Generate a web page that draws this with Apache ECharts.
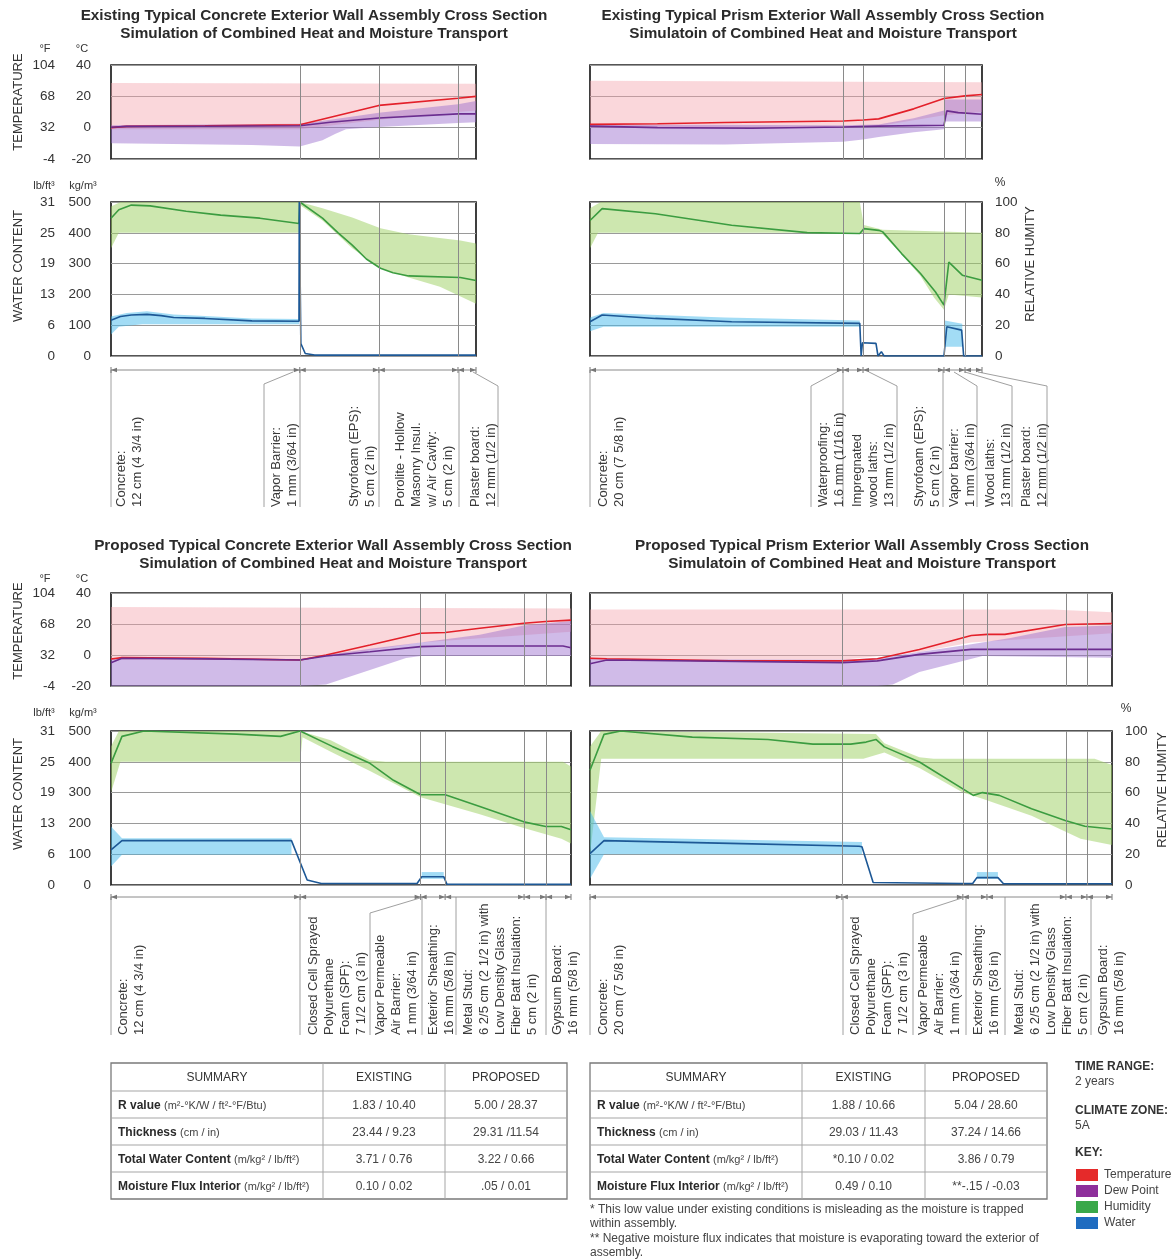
<!DOCTYPE html>
<html><head><meta charset="utf-8">
<script src="https://cdn.jsdelivr.net/npm/echarts@6/dist/echarts.min.js"></script>
<style>html,body{margin:0;padding:0;background:#fff}#c{width:1173px;height:1260px}</style>
</head><body><div id="c"></div>
<script>
// ---------- tick labels ----------
const cTicks = [-20, 0, 20, 40];
const fTickLabels = ['-4', '32', '68', '104'];
const kgTicks = [0, 100, 200, 300, 400, 500];
const lbTickLabels = ['0', '6', '13', '19', '25', '31'];

// ---------- titles ----------
const titleLine1 = ['Existing Typical Concrete Exterior Wall Assembly Cross Section',
  'Existing Typical Prism Exterior Wall Assembly Cross Section',
  'Proposed Typical Concrete Exterior Wall Assembly Cross Section',
  'Proposed Typical Prism Exterior Wall Assembly Cross Section'];
const titleLine2 = ['Simulation of Combined Heat and Moisture Transport',
  'Simulatoin of Combined Heat and Moisture Transport',
  'Simulation of Combined Heat and Moisture Transport',
  'Simulatoin of Combined Heat and Moisture Transport'];

// ---------- A: existing concrete (position in cm) ----------
const A_total = 23.3;
const A_bounds = [12.05, 17.1, 22.15];
const A_temp = [[0,0],[1,0.8],[6,1.2],[12.05,1.8],[17.1,14.2],[22.15,18.8],[23.3,20]];
const A_dew = [[0,0.3],[1,0.8],[6,0.9],[12.05,1.2],[14,3.5],[17.1,6.2],[22.15,8.8],[23.3,8.8]];
const A_tempHi = [[0,28.5],[23.3,28]];
const A_tempLo = [[0,-1],[12.05,-1],[17.1,5],[22.15,10],[23.3,11]];
const A_dewHi = [[0,1.5],[12.05,2.5],[14,5],[17.1,9.5],[22.15,15],[23.3,17]];
const A_dewLo = [[0,-10],[4,-10.5],[9,-11],[12.05,-12],[13.5,-8],[14.3,-4],[15,-1],[17.1,0.5],[22.15,3],[23.3,3.5]];
const A_rh = [[0,89.5],[0.5,95],[1.3,98],[2.5,97.5],[4.8,94],[7,91.5],[9.5,89.5],[12,86],[12.05,100],[13.5,89.5],[14.5,80],[15.4,72],[16.3,63],[17.2,57],[18,54],[19,52],[22.3,51],[23.3,49]];
const A_rhHi = [[0,97],[0.6,100],[12.05,100],[13.5,96],[15.4,90],[17.2,83],[19,79],[22.3,75],[23.3,73]];
const A_rhLo = [[0,70],[0.5,80],[12,80],[12.05,98],[13.5,88],[15.4,70],[17.2,57],[19,51],[21,45],[23.3,34]];
const A_wc = [[0,116],[0.6,128],[1.3,133],[2.3,135],[3.2,131],[4,125],[6,122],[9,114],[12,113],[12.02,500],[12.08,500],[12.12,40],[12.4,8],[13,3],[23.3,3]];
const A_wcHi = [[0,128],[1,140],[2.3,145],[4,135],[6,130],[9,122],[12,120]];
const A_wcLo = [[0,70],[0.5,95],[2,103],[6,103],[12,103]];

// ---------- B: existing prism ----------
const B_total = 29.06;
const B_bounds = [18.75, 20.24, 26.24, 27.8];
const B_temp = [[0,2.1],[5,2.5],[10,3.3],[18.75,4.3],[20.24,4.9],[21.4,5.6],[24,12],[26.24,18.6],[27.8,20.3],[29.06,21.2]];
const B_dew = [[0,1],[5,0],[12,-0.4],[18.75,0.4],[21.4,1],[26.24,1.5],[26.45,10.7],[27.3,9.6],[29.06,8.6]];
const B_tempHi = [[0,30],[29.06,29]];
const B_tempLo = [[0,0],[18.75,0],[21.4,1],[26.24,8],[29.06,10]];
const B_dewHi = [[0,2],[18.75,1.5],[21.4,2],[24,6],[26.24,11],[26.3,18],[29.06,18]];
const B_dewLo = [[0,-10.5],[10,-10.7],[18.75,-9],[20.24,-7.5],[21.4,-6],[24,-3],[26.24,-1],[26.3,4],[29.06,4]];
const B_rh = [[0,88],[0.9,95.7],[4.85,92.4],[10.5,84.9],[16.1,80.1],[20,79.5],[20.3,82.7],[21.4,81.6],[21.7,80.6],[23.1,66.5],[24.5,53.6],[25.6,41.7],[26.24,33],[26.6,61],[27.6,52.5],[29.06,49.2]];
const B_rhHi = [[0,96],[0.8,100],[20,100],[20.3,85],[21.7,82],[29.06,80]];
const B_rhLo = [[0,70],[0.6,80],[20,80],[21.7,79],[23.1,66],[24.5,52],[25.5,38],[26.24,30],[26.6,40],[29.06,38]];
const B_wc = [[0,111],[0.9,133],[4.85,122],[10.5,111],[20,106],[20.1,0],[20.2,43],[21.2,41],[21.35,0],[21.6,14],[21.8,0],[26.24,0],[26.45,95],[27.55,84],[27.7,0],[29.06,0]];
const B_wcHi = [[0,125],[1,140],[10,125],[20,115]];
const B_wcLo = [[0,80],[1,95],[20,95]];
const B_wcHi2 = [[26.3,115],[27.6,105]];
const B_wcLo2 = [[26.3,30],[27.6,30]];

// ---------- C: proposed concrete ----------
const C_total = 29.31;
const C_bounds = [12.05, 19.73, 21.29, 26.32, 27.72];
const C_temp = [[0,-2.6],[0.7,-1.7],[6,-2.2],[12.05,-3.2],[13.7,0],[16.5,6.4],[19.73,14],[21.3,14.5],[23.5,17.3],[26.3,20.5],[27.7,21.6],[29.31,22.5]];
const C_dew = [[0,-5],[0.7,-2.1],[6,-2.5],[12.05,-3.2],[13.7,-0.6],[16.5,2.1],[19.73,5.4],[21.3,5.8],[28.8,5.8],[29.31,4.7]];
const C_tempHi = [[0,31],[29.31,30]];
const C_tempLo = [[0,-3],[12.05,-3],[16.5,3],[19.73,8],[29.31,15]];
const C_dewHi = [[0,-2],[12.05,-2.5],[13.7,0],[16.5,4],[19.73,8],[23.5,13],[26.3,19],[29.31,22]];
const C_dewLo = [[0,-20],[12.05,-20],[13.7,-19],[16.5,-9.6],[18.8,-2],[19.73,-0.6],[29.31,-0.6]];
const C_rh = [[0,79],[0.7,96.5],[2.1,100],[8,98],[10.8,96.5],[12.05,100],[14.1,90],[16.5,79],[18,68],[19.73,58.6],[21.3,58.6],[23.5,51],[26.3,41],[27.7,38],[28.7,38],[29.31,35.8]];
const C_rhHi = [[0,90],[0.5,100],[12.05,100],[14,94],[16.5,81],[17.5,80],[28.8,80],[29.31,77]];
const C_rhLo = [[0,60],[0.6,80],[12.05,80],[12.2,96],[14.1,86],[16.5,74],[19.73,57],[23.5,46],[26.3,37],[28.7,30],[29.31,27]];
const C_wc = [[0,114],[0.7,144],[11.5,144],[12.5,16],[13.4,5],[19.5,5],[19.8,27],[21.2,27],[21.4,3],[29.31,2]];
const C_wcHi = [[0,190],[0.7,152],[11.5,152]];
const C_wcLo = [[0,60],[0.7,98],[11.5,98]];
const C_wcHi2 = [[19.8,42],[21.2,42]];
const C_wcLo2 = [[19.8,20],[21.2,20]];

// ---------- D: proposed prism ----------
const D_total = 37.24;
const D_bounds = [17.97, 26.6, 28.32, 33.95, 35.45];
const D_temp = [[0,-2.1],[1.2,-2.4],[10,-3.8],[18,-3.8],[20.5,-2.4],[23.5,3.6],[27.2,12.6],[28.35,13.3],[29.6,13.3],[33.9,19.7],[37.24,20.3]];
const D_dew = [[0,-5.6],[1.2,-3.2],[18,-4.9],[20.5,-3.8],[23.5,0.4],[27.2,3.6],[37.24,3.6]];
const D_tempHi = [[0,29.4],[33,29.4],[37.24,27.6]];
const D_tempLo = [[0,-3],[18,-3],[23.5,2],[27.2,8],[37.24,14]];
const D_dewHi = [[0,-2.5],[18,-3],[20.5,-2],[23.5,2],[27.2,7],[30,11],[33.9,18],[37.24,19]];
const D_dewLo = [[0,-20],[20.5,-20],[21.6,-19],[23.5,-11],[26.6,-3.8],[28,-0.6],[37.24,-1.7]];
const D_rh = [[0,74.5],[1,97.8],[2.2,100],[7.3,96],[12.7,94.5],[15.9,91.5],[18.6,91.5],[19.7,92.8],[20.4,94.5],[21,89.7],[23.5,79.9],[27.35,58.2],[28,60],[29.2,58.2],[31.5,49.5],[33.9,41.9],[35.3,38.1],[37.24,36.4]];
const D_rhHi = [[0,90],[0.8,100],[20.4,98],[21,92],[23.5,83],[24.5,82],[36,82],[37.24,78]];
const D_rhLo = [[0,20],[0.8,82],[19.5,82],[21,86],[23.5,76],[26.6,60],[28,56],[31.5,45],[35,30],[37.24,26]];
const D_wc = [[0,102],[1,144],[10,135],[19.2,126],[19.4,124],[20.2,8],[26.5,5],[27.3,5],[27.6,24],[29.1,24],[29.5,4],[37.24,4]];
const D_wcHi = [[0,240],[1,155],[19.4,140]];
const D_wcLo = [[0,20],[1,100],[19.4,100]];
const D_wcHi2 = [[27.6,42],[29.1,42]];
const D_wcLo2 = [[27.6,20],[29.1,20]];

// ---------- layer labels ----------
const A_layers = [['Concrete:','12 cm (4 3/4 in)'],['Vapor Barrier:','1 mm (3/64 in)'],['Styrofoam (EPS):','5 cm (2 in)'],['Porolite - Hollow','Masonry Insul.','w/ Air Cavity:','5 cm (2 in)'],['Plaster board:','12 mm (1/2 in)']];
const B_layers = [['Concrete:','20 cm (7 5/8 in)'],['Waterproofing:','1.6 mm (1/16 in)'],['Impregnated','wood laths:','13 mm (1/2 in)'],['Styrofoam (EPS):','5 cm (2 in)'],['Vapor barrier:','1 mm (3/64 in)'],['Wood laths:','13 mm (1/2 in)'],['Plaster board:','12 mm (1/2 in)']];
const C_layers = [['Concrete:','12 cm (4 3/4 in)'],['Closed Cell Sprayed','Polyurethane','Foam (SPF):','7 1/2 cm (3 in)'],['Vapor Permeable','Air Barrier:','1 mm (3/64 in)'],['Exterior Sheathing:','16 mm (5/8 in)'],['Metal Stud:','6 2/5 cm (2 1/2 in) with','Low Density Glass','Fiber Batt Insulation:','5 cm (2 in)'],['Gypsum Board:','16 mm (5/8 in)']];
const D_layers = [['Concrete:','20 cm (7 5/8 in)'],['Closed Cell Sprayed','Polyurethane','Foam (SPF):','7 1/2 cm (3 in)'],['Vapor Permeable','Air Barrier:','1 mm (3/64 in)'],['Exterior Sheathing:','16 mm (5/8 in)'],['Metal Stud:','6 2/5 cm (2 1/2 in) with','Low Density Glass','Fiber Batt Insulation:','5 cm (2 in)'],['Gypsum Board:','16 mm (5/8 in)']];

// ---------- summary tables ----------
const summaryNames = ['R value', 'Thickness', 'Total Water Content', 'Moisture Flux Interior'];
const summaryUnits = ['(m²-°K/W / ft²-°F/Btu)', '(cm / in)', '(m/kg² / lb/ft²)', '(m/kg² / lb/ft²)'];
const concreteExisting = ['1.83 / 10.40', '23.44 / 9.23', '3.71 / 0.76', '0.10 / 0.02'];
const concreteProposed = ['5.00 / 28.37', '29.31 /11.54', '3.22 / 0.66', '.05 / 0.01'];
const prismExisting = ['1.88 / 10.66', '29.03 / 11.43', '*0.10 / 0.02', '0.49 / 0.10'];
const prismProposed = ['5.04 / 28.60', '37.24 / 14.66', '3.86 / 0.79', '**-.15 / -0.03'];
const footnotes = ['* This low value under existing conditions is misleading as the moisture is trapped', 'within assembly.', '** Negative moisture flux indicates that moisture is evaporating toward the exterior of', 'assembly.'];
const keyNames = ['Temperature', 'Dew Point', 'Humidity', 'Water'];

// ================= styles & layout =================
const FONT = '"Liberation Sans", Arial, Helvetica, sans-serif';
const TXT = '#333';
const COL = {
  red: '#e3202a', dew: '#6b2d8f', green: '#3b9c40', blue: '#1d5896',
  pink: 'rgba(244,160,170,0.42)', purple: 'rgba(150,105,205,0.45)',
  lgreen: 'rgba(155,208,95,0.5)', lblue: 'rgba(70,185,235,0.5)'
};
const KEYCOL = ['#e52a2a', '#8e2f9b', '#3aa84a', '#1f6cc0'];

const LAYOUT = [
  {left:111, width:365, tTop:65, tH:94, wTop:202, wH:154, lab:true},
  {left:590, width:392, tTop:65, tH:94, wTop:202, wH:154, lab:false},
  {left:111, width:460, tTop:593, tH:93, wTop:731, wH:154, lab:true},
  {left:590, width:522, tTop:593, tH:93, wTop:731, wH:154, lab:false}
];

const PANELS = [
  {total:A_total, bounds:A_bounds, temp:A_temp, dew:A_dew, tHi:A_tempHi, tLo:A_tempLo, dHi:A_dewHi, dLo:A_dewLo, rh:A_rh, rHi:A_rhHi, rLo:A_rhLo, wc:A_wc, wBands:[[A_wcHi,A_wcLo]]},
  {total:B_total, bounds:B_bounds, temp:B_temp, dew:B_dew, tHi:B_tempHi, tLo:B_tempLo, dHi:B_dewHi, dLo:B_dewLo, rh:B_rh, rHi:B_rhHi, rLo:B_rhLo, wc:B_wc, wBands:[[B_wcHi,B_wcLo],[B_wcHi2,B_wcLo2]]},
  {total:C_total, bounds:C_bounds, temp:C_temp, dew:C_dew, tHi:C_tempHi, tLo:C_tempLo, dHi:C_dewHi, dLo:C_dewLo, rh:C_rh, rHi:C_rhHi, rLo:C_rhLo, wc:C_wc, wBands:[[C_wcHi,C_wcLo],[C_wcHi2,C_wcLo2]]},
  {total:D_total, bounds:D_bounds, temp:D_temp, dew:D_dew, tHi:D_tempHi, tLo:D_tempLo, dHi:D_dewHi, dLo:D_dewLo, rh:D_rh, rHi:D_rhHi, rLo:D_rhLo, wc:D_wc, wBands:[[D_wcHi,D_wcLo],[D_wcHi2,D_wcLo2]]}
];

const grids = [], xAxes = [], yAxes = [], series = [];
const lblStyle = {fontSize:13.5, color:TXT, fontFamily:FONT};

function band(xi, yi, hi, lo, color) {
  return {type:'custom', xAxisIndex:xi, yAxisIndex:yi, silent:true, z:1, animation:false, clip:true,
    data:[[hi[0][0], hi[0][1]]],
    renderItem: function (params, api) {
      const pts = hi.map(p => api.coord(p)).concat(lo.slice().reverse().map(p => api.coord(p)));
      return {type:'polygon', shape:{points:pts}, style:{fill:color}};
    }};
}
function line(xi, yi, data, color, bounds) {
  const s = {type:'line', xAxisIndex:xi, yAxisIndex:yi, data:data, showSymbol:false, symbol:'none',
    lineStyle:{color:color, width:1.6}, z:3, animation:false, silent:true};
  if (bounds) s.markLine = {silent:true, symbol:['none','none'], label:{show:false}, animation:false,
    lineStyle:{color:'#8a8a8a', width:1, type:'solid'}, data: bounds.map(b => ({xAxis:b}))};
  return s;
}

PANELS.forEach((p, i) => {
  const L = LAYOUT[i];
  grids.push({left:L.left, top:L.tTop, width:L.width, height:L.tH, show:true, borderColor:'#1e1e1e', borderWidth:1.7});
  grids.push({left:L.left, top:L.wTop, width:L.width, height:L.wH, show:true, borderColor:'#1e1e1e', borderWidth:1.7});
  const xt = 2*i, xw = 2*i + 1;
  xAxes.push({type:'value', gridIndex:xt, min:0, max:p.total, show:false});
  xAxes.push({type:'value', gridIndex:xw, min:0, max:p.total, show:false});
  const base = yAxes.length;
  const split = {show:true, lineStyle:{color:'#9a9a9a', width:1}};
  yAxes.push({type:'value', gridIndex:xt, min:-20, max:40, interval:20, position:'left',
    axisLine:{show:false}, axisTick:{show:false}, splitLine:split,
    axisLabel:Object.assign({show:L.lab, margin:20}, lblStyle)});
  yAxes.push({type:'value', gridIndex:xt, min:-20, max:40, interval:20, position:'left',
    axisLine:{show:false}, axisTick:{show:false}, splitLine:{show:false},
    axisLabel:Object.assign({show:L.lab, margin:56, formatter: v => fTickLabels[cTicks.indexOf(v)]}, lblStyle)});
  yAxes.push({type:'value', gridIndex:xw, min:0, max:500, interval:100, position:'left',
    axisLine:{show:false}, axisTick:{show:false}, splitLine:split,
    axisLabel:Object.assign({show:L.lab, margin:20}, lblStyle)});
  yAxes.push({type:'value', gridIndex:xw, min:0, max:500, interval:100, position:'left',
    axisLine:{show:false}, axisTick:{show:false}, splitLine:{show:false},
    axisLabel:Object.assign({show:L.lab, margin:56, formatter: v => lbTickLabels[kgTicks.indexOf(v)]}, lblStyle)});
  yAxes.push({type:'value', gridIndex:xw, min:0, max:100, interval:20, position:'right',
    axisLine:{show:false}, axisTick:{show:false}, splitLine:{show:false},
    axisLabel:Object.assign({show:!L.lab, margin:13}, lblStyle)});

  series.push(band(xt, base, p.tHi, p.tLo, COL.pink));
  series.push(band(xt, base, p.dHi, p.dLo, COL.purple));
  series.push(line(xt, base, p.temp, COL.red, p.bounds));
  series.push(line(xt, base, p.dew, COL.dew));
  series.push(band(xw, base+4, p.rHi, p.rLo, COL.lgreen));
  p.wBands.forEach(b => series.push(band(xw, base+2, b[0], b[1], COL.lblue)));
  series.push(line(xw, base+4, p.rh, COL.green, p.bounds));
  series.push(line(xw, base+2, p.wc, COL.blue));
});

const chart = echarts.init(document.getElementById('c'), null, {renderer:'canvas'});
chart.setOption({animation:false, backgroundColor:'#fff', grid:grids, xAxis:xAxes, yAxis:yAxes, series:series});

// ================= annotations =================
const G = [];
function txt(x, y, text, o) {
  o = o || {};
  const st = {text:text, fill:o.color || TXT, font:(o.weight || 'normal') + ' ' + (o.size || 12) + 'px ' + FONT,
    textAlign:o.align || 'left', textVerticalAlign:o.va || 'middle', align:o.align || 'left', verticalAlign:o.va || 'middle'};
  if (o.lh) st.lineHeight = o.lh;
  if (o.rich) st.rich = o.rich;
  G.push({type:'text', x:x, y:y, rotation:o.rot || 0, silent:true, z:10, style:st});
}
function pl(points, color, w) {
  G.push({type:'polyline', silent:true, z:9, shape:{points:points}, style:{stroke:color || '#999', lineWidth:w || 1, fill:null}});
}
function rect(x, y, w, h, stroke, fill, lw) {
  G.push({type:'rect', silent:true, z:9, shape:{x:x, y:y, width:w, height:h}, style:{stroke:stroke || null, fill:fill || null, lineWidth:lw || 1}});
}

// titles
const titleX = [314, 823, 333, 862], titleY = [16, 16, 546, 546];
for (let i = 0; i < 4; i++) {
  txt(titleX[i], titleY[i], titleLine1[i], {align:'center', weight:'bold', size:15.3, color:'#2a2a2a'});
  txt(titleX[i], titleY[i] + 18, titleLine2[i], {align:'center', weight:'bold', size:15.3, color:'#2a2a2a'});
}
// left axis titles and unit headers
[[0, 102, 266, 49, 186], [2, 631, 794, 579, 713]].forEach(a => {
  txt(18, a[1], 'TEMPERATURE', {rot:Math.PI/2, align:'center', size:13});
  txt(18, a[2], 'WATER CONTENT', {rot:Math.PI/2, align:'center', size:13});
  txt(45, a[3], '°F', {align:'center', size:11});
  txt(82, a[3], '°C', {align:'center', size:11});
  txt(44, a[4], 'lb/ft³', {align:'center', size:11});
  txt(83, a[4], 'kg/m³', {align:'center', size:11});
});
// right axis titles
txt(1000, 183, '%', {align:'center', size:12});
txt(1030, 264, 'RELATIVE HUMITY', {rot:Math.PI/2, align:'center', size:13});
txt(1126, 709, '%', {align:'center', size:12});
txt(1162, 790, 'RELATIVE HUMITY', {rot:Math.PI/2, align:'center', size:13});

// layer labels (rotated, reading bottom to top)
const LAB = [
  {names:A_layers, xs:[113, 268, 346, 392, 467], bottom:507, dimY:370,
   leaders:[[[111,370],[111,507]],[[293,372],[264,384],[264,507]],[[300,370],[300,507]],[[379,370],[379,507]],[[459,370],[459,507]],[[473,372],[498,386],[498,507]]]},
  {names:B_layers, xs:[595, 815, 849, 911, 946, 982, 1018], bottom:507, dimY:370,
   leaders:[[[590,370],[590,507]],[[837,372],[811,386],[811,507]],[[843,370],[843,507]],[[869,372],[897,386],[897,507]],[[943,370],[943,507]],[[954,372],[977,386],[977,507]],[[965,372],[1012,386],[1012,507]],[[978,372],[1047,386],[1047,507]]]},
  {names:C_layers, xs:[115, 305, 372, 425, 460, 549], bottom:1035, dimY:897,
   leaders:[[[111,897],[111,1035]],[[300,897],[300,1035]],[[420,898],[370,913],[370,1035]],[[422,897],[422,1035]],[[456,897],[456,1035]],[[546,897],[546,1035]]]},
  {names:D_layers, xs:[595, 847, 915, 970, 1011, 1095], bottom:1035, dimY:897,
   leaders:[[[590,897],[590,1035]],[[843,897],[843,1035]],[[962,898],[913,914],[913,1035]],[[966,897],[966,1035]],[[1005,897],[1005,1035]],[[1091,897],[1091,1035]]]}
];
LAB.forEach((lab, i) => {
  lab.names.forEach((lines, k) => txt(lab.xs[k], lab.bottom, lines.join('\n'), {rot:Math.PI/2, align:'left', va:'top', size:13, lh:16, color:'#3a3a3a'}));
  lab.leaders.forEach(pts => pl(pts, '#a0a0a0', 1));
  const p = PANELS[i];
  const vals = [0].concat(p.bounds).concat([p.total]);
  const px = vals.map(v => chart.convertToPixel({xAxisIndex:2*i}, v));
  const y = lab.dimY;
  pl([[px[0], y], [px[px.length-1], y]], '#8a8a8a', 1);
  px.forEach((x, k) => {
    if (k > 0) G.push({type:'polygon', silent:true, z:9, shape:{points:[[x-6,y-2.2],[x,y],[x-6,y+2.2]]}, style:{fill:'#777'}});
    if (k < px.length-1) G.push({type:'polygon', silent:true, z:9, shape:{points:[[x+6,y-2.2],[x,y],[x+6,y+2.2]]}, style:{fill:'#777'}});
    pl([[x, y-3], [x, y+3]], '#777', 1);
  });
});

// summary tables
function table(x0, cols, existing, proposed) {
  const rows = [1063, 1091, 1118, 1145, 1172, 1199];
  const x3 = cols[2];
  rect(x0, rows[0], x3 - x0, rows[5] - rows[0], '#7a7a7a', null, 1.3);
  for (let r = 1; r < 5; r++) pl([[x0, rows[r]], [x3, rows[r]]], '#a5a5a5', 1);
  pl([[cols[0], rows[0]], [cols[0], rows[5]]], '#a5a5a5', 1);
  pl([[cols[1], rows[0]], [cols[1], rows[5]]], '#a5a5a5', 1);
  const c1 = (x0 + cols[0]) / 2, c2 = (cols[0] + cols[1]) / 2, c3 = (cols[1] + x3) / 2;
  const hy = (rows[0] + rows[1]) / 2 + 1;
  txt(c1, hy, 'SUMMARY', {align:'center', size:12});
  txt(c2, hy, 'EXISTING', {align:'center', size:12});
  txt(c3, hy, 'PROPOSED', {align:'center', size:12});
  for (let r = 0; r < 4; r++) {
    const cy = (rows[r+1] + rows[r+2]) / 2 + 1;
    txt(x0 + 7, cy, '{b|' + summaryNames[r] + '} {n|' + summaryUnits[r] + '}', {size:12, rich:{
      b:{fontWeight:'bold', fontSize:12, fontFamily:FONT, fill:'#2a2a2a'},
      n:{fontSize:11, fontFamily:FONT, fill:'#444'}}});
    txt(c2, cy, existing[r], {align:'center', size:12, color:'#444'});
    txt(c3, cy, proposed[r], {align:'center', size:12, color:'#444'});
  }
}
table(111, [323, 445, 567], concreteExisting, concreteProposed);
table(590, [802, 925, 1047], prismExisting, prismProposed);

// footnotes
[1210, 1224, 1239, 1253].forEach((y, k) => txt(590, y, footnotes[k], {size:12, color:'#444'}));

// right info block and key
txt(1075, 1067, 'TIME RANGE:', {size:12, weight:'bold'});
txt(1075, 1082, '2 years', {size:12, color:'#444'});
txt(1075, 1111, 'CLIMATE ZONE:', {size:12, weight:'bold'});
txt(1075, 1126, '5A', {size:12, color:'#444'});
txt(1075, 1153, 'KEY:', {size:12, weight:'bold'});
[1175, 1191, 1207, 1223].forEach((y, k) => {
  rect(1076, y - 6, 22, 12, null, KEYCOL[k]);
  txt(1104, y, keyNames[k], {size:12, color:'#444'});
});

chart.setOption({graphic:{elements:G}});
</script></body></html>
